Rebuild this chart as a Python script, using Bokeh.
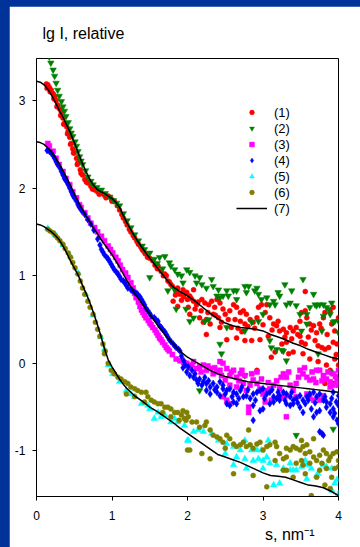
from bokeh.plotting import figure
from bokeh.models import Range1d, Legend, LegendItem, Title, FixedTicker
from bokeh.embed import file_html
from bokeh.resources import INLINE

# ---------------- data ----------------
x_ticks = [0, 1, 2, 3, 4]
y_ticks = [-1, 0, 1, 2, 3]
y_tick_text = {-1: "-1", 0: "0", 1: "1", 2: "2", 3: "3"}
legend_labels = ["(1)", "(2)", "(3)", "(4)", "(5)", "(6)", "(7)"]
y_title = "lg I, relative"
x_title = "s, nm\u207b\u00b9"

fit_s = [0.00, 0.05, 0.10, 0.15, 0.20, 0.25, 0.30, 0.35, 0.40, 0.45, 0.50, 0.55, 0.60,
         0.65, 0.70, 0.75, 0.80, 0.85, 0.90, 0.95, 1.00, 1.05, 1.10, 1.15, 1.20,
         1.3, 1.4, 1.5, 1.6, 1.7, 1.8, 1.9, 2.0, 2.1, 2.2, 2.3, 2.4, 2.5, 2.6, 2.7,
         2.8, 2.9, 3.0, 3.1, 3.2, 3.3, 3.4, 3.5, 3.6, 3.7, 3.8, 3.9, 4.0]
fit_a = [3.22, 3.21, 3.18, 3.13, 3.06, 2.98, 2.89, 2.81, 2.72, 2.63, 2.52, 2.41, 2.30,
         2.20, 2.11, 2.04, 1.99, 1.96, 1.94, 1.91, 1.88, 1.84, 1.78, 1.69, 1.60,
         1.45, 1.32, 1.20, 1.09, 0.98, 0.88, 0.82, 0.77, 0.71, 0.64, 0.57, 0.51, 0.46, 0.43, 0.41,
         0.40, 0.39, 0.37, 0.33, 0.30, 0.27, 0.23, 0.20, 0.16, 0.13, 0.10, 0.07, 0.05]
fit_b = [2.53, 2.52, 2.50, 2.46, 2.41, 2.35, 2.28, 2.20, 2.12, 2.03, 1.94, 1.85, 1.77,
         1.69, 1.62, 1.55, 1.49, 1.42, 1.36, 1.30, 1.24, 1.17, 1.10, 1.02, 0.94,
         0.80, 0.68, 0.56, 0.44, 0.33, 0.23, 0.14, 0.07, 0.02, -0.03, -0.08, -0.12, -0.15, -0.17, -0.19,
         -0.21, -0.22, -0.23, -0.24, -0.25, -0.26, -0.27, -0.28, -0.29, -0.30, -0.31, -0.32, -0.33]
fit_c = [1.59, 1.58, 1.56, 1.53, 1.50, 1.46, 1.41, 1.34, 1.26, 1.17, 1.09, 1.01, 0.91,
         0.81, 0.71, 0.59, 0.46, 0.32, 0.17, 0.04, -0.04, -0.11, -0.18, -0.24, -0.29,
         -0.37, -0.43, -0.50, -0.55, -0.61, -0.67, -0.74, -0.80, -0.86, -0.92, -0.98, -1.04, -1.07, -1.10, -1.13,
         -1.17, -1.21, -1.25, -1.28, -1.29, -1.30, -1.33, -1.36, -1.39, -1.40, -1.42, -1.46, -1.51]

series1 = [  # red circles
    (0.13, 3.19), (0.15, 3.18), (0.17, 3.15), (0.195, 3.12), (0.22, 3.08), (0.24, 3.05), (0.26, 3.00),
    (0.28, 2.95), (0.31, 2.90), (0.33, 2.86), (0.35, 2.80), (0.37, 2.74), (0.40, 2.70), (0.42, 2.65),
    (0.44, 2.58), (0.46, 2.51), (0.48, 2.45), (0.50, 2.40), (0.53, 2.34), (0.55, 2.29), (0.58, 2.21),
    (0.61, 2.15), (0.64, 2.10), (0.68, 2.06), (0.72, 2.02), (0.77, 1.98), (0.81, 1.96), (0.86, 1.94),
    (0.90, 1.92), (0.95, 1.91), (0.99, 1.88), (1.03, 1.85), (1.07, 1.80),
    (0.14, 3.14), (0.18, 3.10), (0.23, 3.02), (0.27, 2.93), (0.32, 2.83), (0.36, 2.73), (0.41, 2.62),
    (0.45, 2.50), (0.49, 2.40), (0.54, 2.27), (0.59, 2.17), (0.66, 2.07), (0.74, 1.99), (0.83, 1.93),
    (0.92, 1.89), (1.00, 1.85),
    (1.10, 1.75), (1.13, 1.70), (1.15, 1.66), (1.18, 1.62), (1.20, 1.58), (1.23, 1.53), (1.25, 1.50),
    (1.28, 1.46), (1.30, 1.43), (1.33, 1.39), (1.35, 1.36), (1.38, 1.33), (1.40, 1.30), (1.42, 1.28),
    (1.44, 1.25), (1.47, 1.21), (1.50, 1.20), (1.54, 1.17), (1.57, 1.12), (1.60, 1.08), (1.61, 1.11),
    (1.65, 1.05), (1.68, 1.00), (1.70, 1.02), (1.72, 1.00), (1.74, 0.94), (1.76, 0.93), (1.78, 0.90),
    (1.80, 0.88), (1.81, 0.71), (1.84, 0.78), (1.85, 0.82), (1.87, 0.86), (1.87, 0.65), (1.90, 0.79),
    (1.92, 0.72), (1.94, 0.84), (1.95, 0.76), (1.98, 0.81), (2.00, 0.73),
    (1.99, 0.81), (2.03, 0.77), (2.08, 0.71), (2.01, 0.64), (2.03, 0.56), (2.12, 0.67), (2.19, 0.73),
    (2.23, 0.69), (2.28, 0.67), (2.32, 0.71), (2.39, 0.73), (2.43, 0.69), (2.16, 0.52), (2.21, 0.47),
    (2.25, 0.50), (2.30, 0.45), (2.34, 0.56), (2.41, 0.52), (2.45, 0.47), (2.50, 0.56), (2.56, 0.60),
    (2.61, 0.67), (2.65, 0.64), (2.70, 0.58), (2.74, 0.60), (2.78, 0.56), (2.63, 0.50), (2.70, 0.48),
    (2.76, 0.45), (2.83, 0.50), (2.87, 0.47), (2.92, 0.52), (2.94, 0.64), (2.98, 0.67), (3.03, 0.58),
    (3.05, 0.67), (3.09, 0.52), (3.14, 0.45), (3.18, 0.43), (3.22, 0.37), (3.27, 0.39), (3.31, 0.35),
    (3.36, 0.41), (3.40, 0.37), (3.44, 0.41), (3.49, 0.48), (3.51, 0.58), (3.56, 0.60), (3.58, 0.52),
    (3.62, 0.45), (3.67, 0.43), (3.71, 0.35), (3.75, 0.45), (3.80, 0.52), (3.82, 0.58), (3.89, 0.60),
    (3.93, 0.64), (3.95, 0.37), (4.00, 0.52), (2.25, 0.33), (2.52, 0.27), (2.65, 0.29), (2.76, 0.26),
    (2.85, 0.26), (2.96, 0.27), (3.07, 0.31), (3.25, 0.22), (3.31, 0.24), (3.49, 0.31), (3.51, 0.24),
    (3.56, 0.22), (3.69, 0.26), (3.73, 0.20), (3.78, 0.18), (3.82, 0.16), (3.87, 0.18), (3.93, 0.24),
    (3.98, 0.22), (3.56, 0.82), (2.43, 0.41), (2.08, 0.84), (2.36, 0.64),
    (3.11, 0.07), (3.16, 0.13), (3.34, 0.11), (3.40, 0.13), (3.53, 0.11), (3.62, 0.05), (3.73, 0.02),
    (3.82, -0.23), (3.89, -0.08), (3.93, -0.23), (3.95, 0.05), (2.92, -0.08), (4.00, -0.02), (3.84, -0.02),
    (2.05, 0.74), (2.10, 0.62), (2.14, 0.70), (2.18, 0.60), (2.27, 0.58), (2.37, 0.55), (2.47, 0.62),
    (2.54, 0.50), (2.58, 0.41), (2.67, 0.40), (2.72, 0.36), (2.80, 0.42), (2.89, 0.40), (3.00, 0.44),
    (3.12, 0.38), (3.20, 0.48), (3.29, 0.30), (3.38, 0.28), (3.46, 0.33), (3.60, 0.30), (3.64, 0.38),
    (3.77, 0.40), (3.85, 0.33), (3.91, 0.45), (3.97, 0.10),
]

series2 = [  # green inverted triangles
    (0.15, 3.58), (0.17, 3.50), (0.19, 3.43), (0.22, 3.35), (0.24, 3.28), (0.26, 3.20), (0.28, 3.12),
    (0.30, 3.05), (0.33, 2.99), (0.35, 2.93), (0.37, 2.88), (0.39, 2.82), (0.42, 2.75), (0.44, 2.68),
    (0.46, 2.63), (0.48, 2.59), (0.51, 2.53), (0.53, 2.48), (0.55, 2.42), (0.57, 2.36), (0.59, 2.31),
    (0.61, 2.27), (0.65, 2.20), (0.68, 2.13), (0.72, 2.08), (0.75, 2.04), (0.80, 2.01), (0.86, 1.98),
    (0.91, 1.94), (0.97, 1.90), (1.02, 1.86), (1.06, 1.83),
    (1.10, 1.80), (1.15, 1.71), (1.20, 1.63), (1.25, 1.55), (1.30, 1.47), (1.35, 1.40), (1.40, 1.34),
    (1.43, 1.30), (1.50, 1.26), (1.56, 1.19), (1.63, 1.21), (1.70, 1.22), (1.76, 1.15), (1.78, 1.11),
    (1.83, 1.07), (1.87, 1.02), (1.92, 1.00), (1.94, 0.92), (1.83, 0.84), (1.74, 0.83), (1.50, 0.98),
    (1.98, 0.62), (1.85, 0.62), (1.60, 1.14), (1.67, 1.08),
    (1.99, 1.07), (2.03, 1.04), (2.10, 1.00), (2.16, 0.98), (2.19, 0.90), (2.25, 0.86), (2.32, 0.96),
    (2.34, 0.88), (2.41, 0.84), (2.43, 0.75), (2.47, 0.77), (2.52, 0.83), (2.54, 0.77), (2.61, 0.83),
    (2.65, 0.73), (2.76, 0.88), (2.81, 0.88), (2.89, 0.83), (2.94, 0.79), (2.92, 0.86), (2.98, 0.73),
    (3.05, 0.75), (3.09, 0.67), (3.14, 0.71), (3.16, 0.67), (3.20, 0.81), (3.22, 0.77), (3.29, 0.90),
    (3.31, 0.67), (3.36, 0.69), (3.38, 0.83), (3.44, 0.66), (3.49, 0.56), (3.53, 0.96), (3.58, 0.56),
    (3.62, 0.64), (3.67, 0.79), (3.71, 0.66), (3.75, 0.67), (3.80, 0.67), (3.84, 0.64), (3.87, 0.62),
    (3.91, 0.69), (3.93, 0.47), (3.95, 0.48), (4.00, 0.48), (2.03, 0.48), (2.08, 0.52), (2.23, 0.48),
    (2.28, 0.50), (2.52, 0.41), (2.43, 0.22), (2.76, 0.37), (2.85, 0.47), (2.94, 0.48), (3.00, 0.56),
    (3.09, 0.26), (3.11, 0.18), (3.18, 0.16), (3.27, 0.14), (3.51, 0.37), (3.58, 0.45), (3.69, 0.67),
    (3.78, 0.37), (3.80, 0.54), (3.89, 0.56), (4.00, 0.35), (2.12, 0.92), (2.39, 0.77), (2.65, 0.83),
    (2.78, 0.81),
    (2.45, 0.11), (3.31, 0.03), (3.73, 0.11), (3.89, -0.10), (2.16, -0.31), (3.44, -0.82), (3.93, -0.75),
    (2.76, -0.14), (3.25, 0.15),
]

series3 = [  # magenta squares
    (0.15, 2.51), (0.17, 2.48), (0.22, 2.42), (0.26, 2.34), (0.30, 2.27), (0.35, 2.19), (0.39, 2.11),
    (0.44, 2.04), (0.48, 1.96), (0.53, 1.89), (0.57, 1.81),
    (0.59, 1.78), (0.64, 1.72), (0.68, 1.66), (0.72, 1.60), (0.77, 1.55), (0.81, 1.50), (0.86, 1.45),
    (0.90, 1.40), (0.95, 1.34), (0.98, 1.30), (1.01, 1.26), (1.05, 1.21), (1.08, 1.17), (1.11, 1.12),
    (1.14, 1.07), (1.18, 1.03), (1.21, 0.98), (1.25, 0.92), (1.28, 0.86), (1.30, 0.80), (1.32, 0.75),
    (1.35, 0.70), (1.37, 0.65), (1.39, 0.61), (1.41, 0.58), (1.43, 0.55), (1.45, 0.52), (1.48, 0.49),
    (1.50, 0.46), (1.52, 0.44), (1.54, 0.41), (1.57, 0.38), (1.59, 0.35), (1.61, 0.32), (1.63, 0.29),
    (1.65, 0.27), (1.67, 0.24), (1.70, 0.21), (1.72, 0.18), (1.74, 0.16), (1.76, 0.14), (1.80, 0.10),
    (1.85, 0.05), (1.90, 0.03), (1.95, 0.01),
    (1.99, 0.00), (2.06, -0.02), (2.08, 0.02), (2.12, -0.06), (2.16, -0.04), (2.21, -0.02), (2.25, -0.08),
    (2.30, -0.06), (2.34, -0.12), (2.39, -0.10), (2.43, -0.08), (2.47, 0.00), (2.52, -0.06), (2.56, -0.14),
    (2.61, -0.08), (2.65, -0.16), (2.70, -0.12), (2.76, -0.14), (2.50, -0.19), (2.56, -0.25), (2.65, -0.27),
    (2.74, -0.23), (2.78, -0.31), (2.83, -0.25), (2.87, -0.19), (2.92, -0.23), (2.96, -0.29), (3.00, -0.35),
    (3.05, -0.31), (3.09, -0.29), (3.14, -0.25), (3.22, -0.29), (3.27, -0.12), (3.31, -0.16), (3.36, -0.25),
    (3.40, -0.31), (3.44, -0.23), (3.49, -0.08), (3.53, -0.12), (3.58, -0.16), (3.62, -0.19), (3.67, -0.18),
    (3.71, -0.08), (3.75, -0.08), (3.80, -0.14), (3.84, -0.18), (3.89, -0.21), (3.93, -0.12), (3.98, -0.19),
    (4.00, -0.25), (4.00, -0.08), (3.93, -0.25), (3.58, -0.35), (3.62, -0.38), (3.67, -0.42), (3.75, -0.42),
    (3.80, -0.37), (3.44, -0.38), (3.31, -0.37), (3.22, -0.38), (3.11, -0.42), (3.03, -0.44), (2.47, -0.38),
    (2.52, -0.42), (2.56, -0.46), (2.81, -0.50), (2.81, -0.56), (3.31, -0.61), (2.92, -0.10), (3.27, -0.38),
    (3.89, -0.27), (2.43, 0.02), (2.45, -0.14),
    (2.03, -0.05), (2.18, -0.10), (2.27, -0.03), (2.36, -0.05), (2.58, -0.10), (2.68, -0.20), (2.72, -0.08),
    (2.85, -0.12), (2.98, -0.18), (3.07, -0.22), (3.18, -0.20), (3.24, -0.16), (3.34, -0.10), (3.47, -0.16),
    (3.55, -0.05), (3.65, -0.10), (3.70, -0.22), (3.78, -0.20), (3.86, -0.10), (3.96, -0.15),
]

series4 = [  # blue diamonds
    (0.14, 2.43), (0.17, 2.42), (0.195, 2.40), (0.22, 2.37), (0.24, 2.34), (0.26, 2.30), (0.28, 2.27),
    (0.31, 2.23), (0.33, 2.19), (0.35, 2.15), (0.37, 2.11), (0.40, 2.07), (0.42, 2.04), (0.44, 2.00),
    (0.46, 1.96), (0.48, 1.92), (0.50, 1.89), (0.53, 1.85), (0.55, 1.81),
    (0.57, 1.78), (0.60, 1.74), (0.64, 1.70), (0.68, 1.64), (0.72, 1.59), (0.76, 1.52), (0.81, 1.42),
    (0.84, 1.35), (0.86, 1.30), (0.88, 1.27), (0.90, 1.24), (0.93, 1.21), (0.95, 1.19), (0.97, 1.16),
    (0.99, 1.13), (1.01, 1.10), (1.03, 1.07), (1.06, 1.04), (1.08, 1.02), (1.10, 0.99), (1.12, 0.96),
    (1.15, 0.94), (1.17, 0.92), (1.19, 0.89), (1.21, 0.86), (1.25, 0.84), (1.27, 0.83), (1.30, 0.81),
    (1.32, 0.80), (1.34, 0.79), (1.37, 0.76), (1.39, 0.73), (1.41, 0.70), (1.43, 0.67), (1.45, 0.63),
    (1.475, 0.60), (1.50, 0.57), (1.52, 0.54), (1.56, 0.52), (1.58, 0.50), (1.61, 0.48), (1.63, 0.43),
    (1.65, 0.41), (1.67, 0.39), (1.70, 0.36), (1.72, 0.33), (1.74, 0.30), (1.76, 0.27), (1.78, 0.25),
    (1.81, 0.22), (1.83, 0.20), (1.85, 0.18), (1.88, 0.16), (1.90, 0.14), (1.92, 0.08), (1.95, 0.03),
    (1.97, -0.02), (1.94, -0.05),
    (1.99, -0.10), (2.03, -0.14), (2.08, -0.16), (2.12, -0.19), (2.16, -0.18), (2.21, -0.21), (2.23, -0.16),
    (2.25, -0.23), (2.30, -0.27), (2.34, -0.23), (2.39, -0.27), (2.43, -0.21), (2.47, -0.25), (2.52, -0.31),
    (2.56, -0.29), (2.61, -0.33), (2.65, -0.35), (2.70, -0.31), (2.74, -0.38), (2.78, -0.37), (2.83, -0.40),
    (2.87, -0.35), (2.92, -0.33), (2.96, -0.31), (3.00, -0.29), (3.05, -0.35), (3.09, -0.33), (3.14, -0.38),
    (3.18, -0.40), (3.22, -0.37), (3.27, -0.33), (3.31, -0.35), (3.36, -0.38), (3.40, -0.42), (3.44, -0.40),
    (3.49, -0.37), (3.53, -0.42), (3.58, -0.38), (3.62, -0.35), (3.67, -0.33), (3.71, -0.38), (3.75, -0.35),
    (3.80, -0.42), (3.84, -0.44), (3.89, -0.46), (3.93, -0.52), (3.95, -0.57), (3.98, -0.65), (4.00, -0.69),
    (3.93, -0.61), (3.89, -0.56), (3.84, -0.50), (3.75, -0.54), (3.71, -0.56), (3.67, -0.61), (3.78, -0.80),
    (3.75, -0.78), (3.80, -0.82), (3.53, -0.56), (3.49, -0.50), (3.40, -0.46), (3.31, -0.46), (3.22, -0.42),
    (3.09, -0.46), (3.00, -0.52), (2.96, -0.54), (2.87, -0.65), (2.87, -0.48), (2.65, -0.46), (2.61, -0.44),
    (2.56, -0.48), (2.52, -0.46), (2.43, -0.37), (2.39, -0.33), (2.30, -0.35), (2.25, -0.31), (2.47, -0.29),
    (2.06, -0.08), (2.01, -0.04), (2.10, -0.12), (2.19, -0.25), (2.72, -0.27), (3.14, -0.44), (3.36, -0.48),
    (3.56, -0.46), (3.64, -0.52), (4.00, -0.48), (4.00, -0.37), (3.93, -0.33),
    (2.14, -0.23), (2.28, -0.20), (2.36, -0.30), (2.50, -0.35), (2.59, -0.38), (2.68, -0.40), (2.80, -0.30),
    (2.90, -0.42), (3.02, -0.40), (3.12, -0.30), (3.20, -0.33), (3.29, -0.42), (3.38, -0.33), (3.46, -0.45),
    (3.60, -0.42), (3.69, -0.45), (3.82, -0.38), (3.91, -0.40), (3.97, -0.44),
]

series5 = [  # cyan triangles
    (0.15, 1.54), (0.25, 1.47), (0.35, 1.35), (0.45, 1.22), (0.55, 1.03), (0.65, 0.79), (0.75, 0.55),
    (0.85, 0.30), (0.90, 0.16),
    (1.01, -0.12), (1.10, -0.21), (1.19, -0.31), (1.30, -0.38), (1.39, -0.46), (1.475, -0.48), (1.56, -0.63),
    (1.61, -0.56), (1.70, -0.59), (1.78, -0.67), (1.87, -0.67), (1.96, -0.71), (2.00, -0.88), (0.95, -0.02),
    (1.25, -0.35), (1.50, -0.52), (1.65, -0.61), (1.83, -0.63),
    (2.01, -0.88), (2.08, -0.78), (2.14, -0.76), (2.21, -0.78), (2.32, -0.80), (2.41, -0.88), (2.52, -0.92),
    (2.61, -0.95), (2.70, -0.99), (2.76, -0.88), (2.85, -0.99), (2.92, -0.99), (3.00, -1.11), (3.09, -1.14),
    (3.18, -1.16), (3.27, -1.20), (3.36, -1.22), (3.44, -1.22), (3.51, -1.18), (3.58, -1.16), (3.64, -1.20),
    (3.73, -1.26), (3.80, -1.16), (3.84, -1.18), (3.91, -1.20), (3.98, -1.33), (2.61, -1.16), (2.78, -1.20),
    (2.98, -0.99), (3.07, -0.88), (3.14, -1.39), (3.22, -1.37), (3.36, -1.14), (3.40, -1.22), (3.56, -1.11),
    (3.00, -1.20), (2.87, -1.11), (2.94, -1.09), (3.05, -1.07), (2.50, -1.03), (2.65, -1.07), (2.76, -1.09),
    (3.71, -1.28), (3.91, -1.45), (4.00, -1.49), (3.95, -1.37), (3.58, -1.32),
]

series6 = [  # olive circles
    (0.15, 1.53), (0.18, 1.51), (0.22, 1.49), (0.25, 1.46), (0.28, 1.43), (0.31, 1.40), (0.35, 1.36),
    (0.38, 1.31), (0.42, 1.26), (0.45, 1.21), (0.48, 1.15), (0.51, 1.09), (0.55, 1.02), (0.58, 0.94),
    (0.61, 0.86), (0.64, 0.79), (0.68, 0.71), (0.71, 0.64), (0.75, 0.56), (0.78, 0.47), (0.81, 0.39),
    (0.84, 0.31), (0.88, 0.22), (0.91, 0.14),
    (0.90, 0.11), (0.95, 0.00), (0.99, -0.08), (1.03, -0.12), (1.08, -0.16), (1.12, -0.18), (1.17, -0.21),
    (1.21, -0.23), (1.25, -0.27), (1.30, -0.29), (1.34, -0.31), (1.39, -0.33), (1.45, -0.33), (1.475, -0.38),
    (1.52, -0.42), (1.56, -0.44), (1.61, -0.46), (1.65, -0.46), (1.70, -0.50), (1.74, -0.50), (1.78, -0.52),
    (1.83, -0.56), (1.87, -0.56), (1.92, -0.59), (1.96, -0.63), (1.98, -0.65), (2.00, -0.99), (1.19, -0.35),
    (1.30, -0.38), (1.43, -0.44), (1.67, -0.56), (1.78, -0.61), (1.89, -0.65), (1.94, -0.54),
    (1.99, -0.56), (2.01, -0.61), (2.06, -0.67), (2.12, -0.67), (2.16, -0.73), (2.23, -0.71), (2.25, -0.67),
    (2.30, -0.76), (2.34, -0.82), (2.39, -0.84), (2.43, -0.86), (2.47, -0.90), (2.52, -0.82), (2.56, -0.86),
    (2.61, -0.92), (2.65, -0.95), (2.70, -0.93), (2.74, -0.90), (2.78, -0.95), (2.81, -0.76), (2.83, -0.93),
    (2.87, -0.97), (2.92, -0.92), (2.96, -0.90), (3.00, -0.99), (3.05, -0.95), (3.09, -0.93), (3.16, -0.90),
    (3.18, -0.95), (3.22, -1.03), (3.27, -1.09), (3.31, -1.07), (3.36, -0.99), (3.40, -0.95), (3.44, -0.97),
    (3.49, -0.99), (3.53, -0.95), (3.56, -1.03), (3.58, -0.93), (3.62, -1.01), (3.67, -1.07), (3.71, -1.11),
    (3.75, -1.05), (3.80, -0.99), (3.84, -1.03), (3.87, -1.11), (3.89, -1.07), (3.93, -1.03), (3.98, -1.01),
    (4.00, -1.11), (2.03, -0.99), (2.19, -1.03), (2.30, -1.09), (2.50, -0.97), (2.61, -1.26), (2.87, -1.28),
    (3.05, -1.41), (3.16, -1.11), (3.27, -1.22), (3.40, -1.30), (3.44, -1.14), (3.51, -1.11), (3.56, -1.26),
    (3.62, -1.14), (3.71, -1.30), (3.75, -1.22), (3.78, -1.14), (3.84, -1.20), (3.91, -1.30), (3.95, -1.20),
    (4.00, -1.18), (3.67, -0.86), (3.51, -0.88), (3.31, -0.97), (3.53, -1.16), (3.31, -1.22), (3.64, -1.51),
    (3.82, -1.39), (3.89, -1.43),
]

series_colors = ["#ff0000", "#008000", "#ff00ff", "#0000ff", "#00ffff", "#808000"]
series_markers = ["circle", "inverted_triangle", "square", "diamond", "triangle", "circle"]
series_sizes = [5, 6.5, 5, 7, 6.5, 5]

FONT = "Liberation Sans"

p = figure(width=351, height=541,
           x_range=Range1d(0, 4), y_range=Range1d(-1.52, 3.48),
           output_backend="svg", toolbar_location=None,
           min_border_left=27, min_border_right=22, min_border_top=52, min_border_bottom=51)

p.background_fill_color = "white"
p.border_fill_color = "white"
p.outline_line_color = "black"
p.outline_line_width = 1
p.grid.visible = False

p.title.text = y_title
p.title.align = "left"
p.title.vertical_align = "middle"
p.title.offset = 6
p.title.standoff = 32
p.title.text_font = FONT
p.title.text_font_size = "16px"
p.title.text_font_style = "normal"
p.title.text_color = "black"

p.xaxis.ticker = FixedTicker(ticks=x_ticks)
p.yaxis.ticker = FixedTicker(ticks=y_ticks)
p.yaxis.major_label_overrides = y_tick_text
for ax in (p.xaxis, p.yaxis):
    ax.axis_line_color = "black"
    ax.major_tick_line_color = "black"
    ax.minor_tick_line_color = None
    ax.major_tick_out = 4
    ax.major_tick_in = 0
    ax.major_label_text_font = FONT
    ax.major_label_text_font_size = "12px"
    ax.major_label_text_color = "black"
p.yaxis.major_label_standoff = 7
p.xaxis.major_label_standoff = 10

xlabel = Title(text=x_title, align="right", vertical_align="bottom", offset=24, standoff=2,
               text_font=FONT, text_font_size="16px", text_font_style="normal", text_color="black")
p.add_layout(xlabel, "below")

series_all = [series1, series2, series3, series4, series5, series6]
renderers = []
for pts, col, mk, sz in zip(series_all, series_colors, series_markers, series_sizes):
    xs = [a for a, b in pts]
    ys = [b for a, b in pts]
    r = p.scatter(xs, ys, marker=mk, size=sz, fill_color=col, line_color=col, line_width=0.5)
    renderers.append(r)

fit_r = []
for fy in (fit_a, fit_b, fit_c):
    fit_r.append(p.line(fit_s, fy, line_color="black", line_width=1.5))

items = [LegendItem(label=lab, renderers=[r]) for lab, r in zip(legend_labels[:6], renderers)]
items.append(LegendItem(label=legend_labels[6], renderers=[fit_r[0]]))
legend = Legend(items=items, location=(200, 280), glyph_width=31, glyph_height=12,
                label_height=16, spacing=0, padding=0, margin=0, label_standoff=7,
                border_line_color=None, background_fill_alpha=0,
                label_text_font=FONT, label_text_font_size="13px", label_text_color="black")
p.add_layout(legend)

TEMPLATE = """
{% block postamble %}
<style>
html, body { margin: 0 !important; padding: 0 !important; width: auto !important; height: auto !important;
             background: #003399 !important; overflow: hidden; }
body { padding: 6px 0 0 9px !important; }
</style>
{% endblock %}
"""

open("out.html", "w").write(file_html(p, INLINE, template=TEMPLATE))
